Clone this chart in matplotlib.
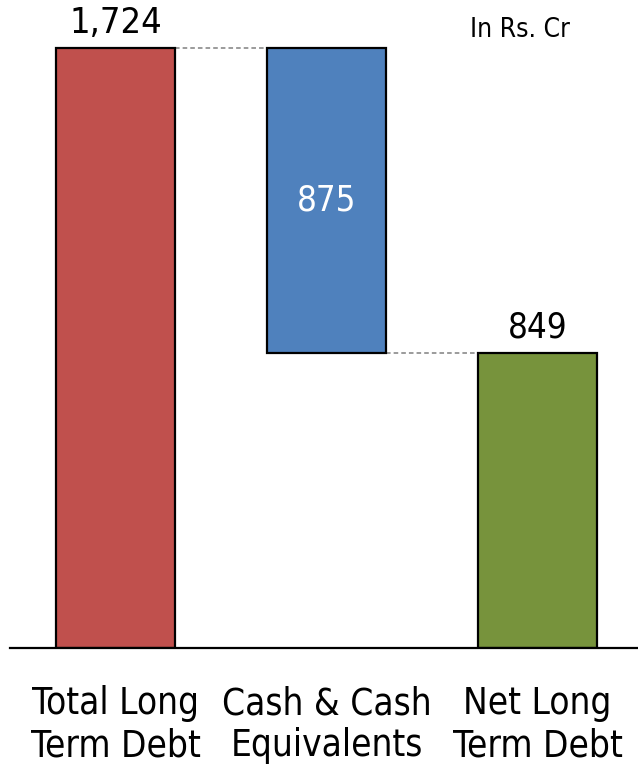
import matplotlib
matplotlib.use("Agg")
import matplotlib.pyplot as plt

categories = ["Total Long\nTerm Debt", "Cash & Cash\nEquivalents", "Net Long\nTerm Debt"]
total_debt = 1724
cash = 875
net_debt = 849
unit_note = "In Rs. Cr"

colors = ["#C0504D", "#4F81BD", "#77933C"]

plt.rcParams["font.family"] = ["DejaVu Sans"]
plt.rcParams["font.stretch"] = "condensed"

fig = plt.figure(figsize=(6.38, 7.68), dpi=100)
ax = fig.add_axes([10 / 638, 120 / 768, 628 / 638, 648 / 768])

x = [0, 1, 2]
heights = [total_debt, cash, net_debt]
bottoms = [0, total_debt - cash, 0]
width = 0.56

ax.bar(x, heights, bottom=bottoms, width=width, color=colors,
       edgecolor="black", linewidth=1.6, zorder=3)

# connector lines between bars
half = width / 2
ax.plot([x[0] + half, x[1] - half], [total_debt, total_debt],
        ls=(0, (3, 2)), color="#808080", lw=1.1, zorder=2)
ax.plot([x[1] + half, x[2] - half], [total_debt - cash, total_debt - cash],
        ls=(0, (3, 2)), color="#808080", lw=1.1, zorder=2)

# value labels
ax.text(x[0], total_debt + 22, f"{total_debt:,}", ha="center", va="bottom",
        fontsize=26, color="black")
ax.text(x[1], total_debt - cash / 2, f"{cash:,}", ha="center",
        va="center", fontsize=25, color="white")
ax.text(x[2], net_debt + 22, f"{net_debt:,}", ha="center", va="bottom",
        fontsize=25, color="black")

ax.text(1.68, 1775, unit_note, ha="left", va="center", fontsize=19)

ax.set_xlim(-0.5, 2.476)
ax.set_ylim(0, 1862)
ax.set_xticks(x)
ax.set_xticklabels(categories, fontsize=26.5, linespacing=1.17)
ax.tick_params(axis="x", length=0, pad=27)
ax.set_yticks([])
for side in ["top", "right", "left"]:
    ax.spines[side].set_visible(False)
ax.spines["bottom"].set_linewidth(1.6)
ax.spines["bottom"].set_zorder(4)

fig.savefig("out.png", dpi=100)
